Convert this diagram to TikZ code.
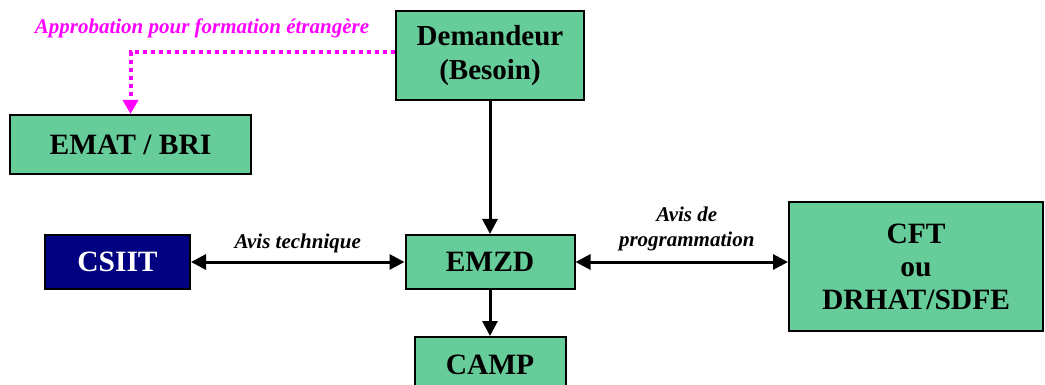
\documentclass[tikz,border=0pt]{standalone}
\usepackage{fontspec}
\setmainfont{Liberation Serif}
\usetikzlibrary{arrows.meta}
\definecolor{boxgreen}{RGB}{102,204,153}
\definecolor{boxnavy}{RGB}{0,0,128}
\definecolor{approcol}{RGB}{255,0,255}
\begin{document}
\begin{tikzpicture}[x=1pt, y=-1pt]
	\tikzstyle{Box} = [rectangle, inner sep=0pt, align=center, draw=black, line width=2pt, fill=boxgreen, font=\fontsize{29.5}{33}\selectfont\bfseries]
	\tikzstyle{Dark} = [Box, fill=boxnavy, text=white]
	\tikzstyle{Label} = [font=\fontsize{21}{25}\selectfont\bfseries\itshape, align=center, inner sep=2pt]
	\tikzstyle{arrow} = [line width=3pt, -{Triangle[length=15pt, width=15pt]}]
	\tikzstyle{both} = [line width=3pt, {Triangle[length=15pt, width=15pt]}-{Triangle[length=15pt, width=15pt]}]
	\tikzstyle{appro} = [approcol, line width=4pt, dash pattern=on 4pt off 4pt, -{Triangle[length=14pt, width=15pt]}]
	
	\useasboundingbox (0,0) rectangle (1045,385);
	\node (dem) [Box, minimum width=188, minimum height=89, font=\fontsize{29}{34}\selectfont\bfseries] at (490,55.5) {Demandeur\\(Besoin)};
	\node (emat) [Box, minimum width=241, minimum height=59] at (130.5,144.5) {EMAT / BRI};
	\node (csiit) [Dark, minimum width=145, minimum height=54] at (117.5,262) {CSIIT};
	\node (emzd) [Box, minimum width=169, minimum height=54] at (490,262) {EMZD};
	\node (camp) [Box, minimum width=151, minimum height=56] at (490,365) {CAMP};
	\node (cft) [Box, minimum width=254, minimum height=129] at (916,266.5) {CFT\\ou\\DRHAT/SDFE};
	\node (txt) [Label, text=approcol] at (202,28) {Approbation pour formation étrangère};
	
	\draw [appro] ([yshift=3pt]dem.west) -| (emat.north);
	\draw [arrow] (dem) -- (emzd);
	\draw [arrow] (emzd) -- (camp);
	\draw [both] (csiit) -- node [Label, above=6pt] {Avis technique} (emzd);
	\draw [both] (emzd.east) -- node [Label, above=8pt, xshift=5pt] {Avis de\\programmation} (emzd.east -| cft.west);
\end{tikzpicture}
\end{document}
